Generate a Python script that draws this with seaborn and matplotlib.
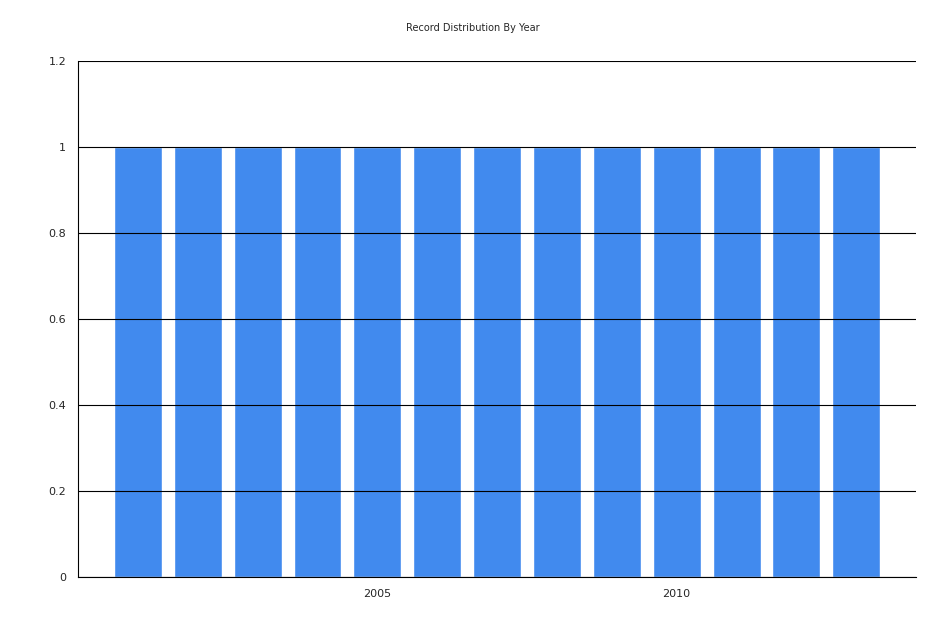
import matplotlib
matplotlib.use("Agg")
import matplotlib.pyplot as plt
import seaborn as sns
import pandas as pd

years = [2001, 2002, 2003, 2004, 2005, 2006, 2007, 2008, 2009, 2010, 2011, 2012, 2013]
counts = [1, 1, 1, 1, 1, 1, 1, 1, 1, 1, 1, 1, 1]

df = pd.DataFrame({"year": years, "count": counts})

sns.set_style("white")
plt.rcParams["font.family"] = ["DejaVu Sans"]

fig = plt.figure(figsize=(9.45, 6.3), dpi=100)
ax = fig.add_axes([0.0825, 0.0841, 0.887, 0.819])

sns.barplot(data=df, x="year", y="count", native_scale=True, color="#418AEE",
            saturation=1, width=0.8, ax=ax)

ax.set_xlim(2000, 2014)
ax.set_ylim(0, 1.2)
ax.set_yticks([0, 0.2, 0.4, 0.6, 0.8, 1.0, 1.2])
ax.set_yticklabels(["0", "0.2", "0.4", "0.6", "0.8", "1", "1.2"])
ax.set_xticks([2000, 2005, 2010])
ax.set_xticklabels(["", "2005", "2010"])
ax.grid(axis="y", color="black", linewidth=0.8)
ax.set_axisbelow(False)
for s in ["top", "right"]:
    ax.spines[s].set_visible(False)
for s in ["left", "bottom"]:
    ax.spines[s].set_color("black")
    ax.spines[s].set_linewidth(0.8)
ax.tick_params(axis="both", length=5, color="black", labelsize=8, direction="out")
ax.set_xlabel("")
ax.set_ylabel("")
fig.text(0.5, 0.955, "Record Distribution By Year", ha="center", va="center", fontsize=7)

fig.savefig("out.png", dpi=100)
